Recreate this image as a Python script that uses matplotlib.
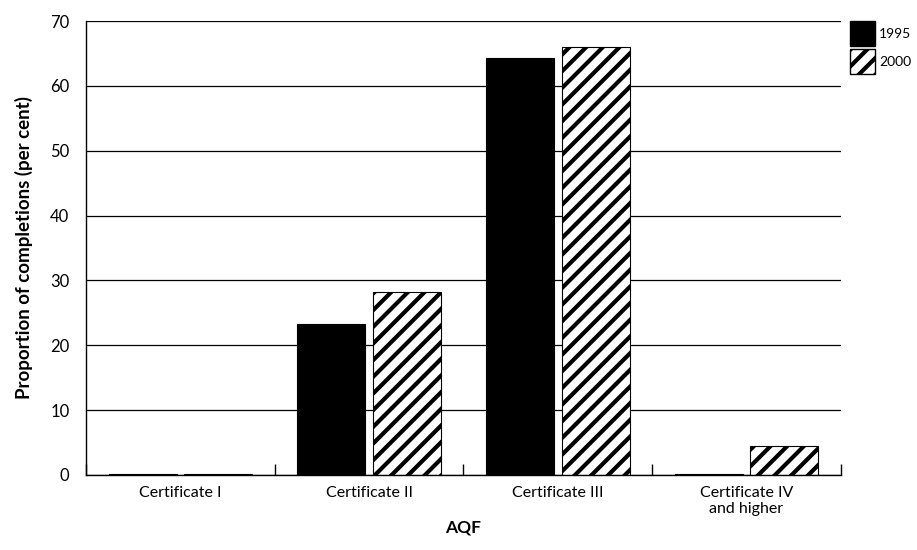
import numpy as np
import matplotlib.pyplot as plt
from matplotlib.patches import Patch

plt.rcParams['font.family'] = ['Lato', 'DejaVu Sans']
plt.rcParams['hatch.linewidth'] = 3.0

categories = ['Certificate I', 'Certificate II', 'Certificate III', 'Certificate IV\nand higher']
years = ['1995', '2000']
vals_1995 = [0.1, 23.3, 64.3, 0.1]
vals_2000 = [0.2, 28.2, 66.0, 4.5]

fig = plt.figure(figsize=(9.17, 5.5), dpi=100)
ax = fig.add_axes([0.0938, 0.1364, 0.8232, 0.8254])

x = np.arange(len(categories))
w = 0.36
gap = 0.04

# gridlines first so bars sit over them
ax.set_axisbelow(True)
ax.yaxis.grid(True, color='black', linewidth=0.9)

ax.bar(x - w / 2 - gap / 2, vals_1995, width=w, color='black', edgecolor='black', linewidth=0.8)
ax.bar(x + w / 2 + gap / 2, vals_2000, width=w, color='white', edgecolor='black', hatch='//', linewidth=0.8)

ax.set_xlim(-0.5, 3.5)
ax.set_ylim(0, 70)
ax.set_yticks(range(0, 71, 10))

# category boundary ticks on the x axis
ax.set_xticks(x)
ax.set_xticklabels(categories, fontsize=11.5)
ax.tick_params(axis='x', length=0, pad=8)
ax.set_xticks(np.arange(-0.5, 3.6, 1.0), minor=True)
ax.tick_params(axis='x', which='minor', direction='in', length=8, width=1)
ax.tick_params(axis='y', length=0, labelsize=12, pad=12)

for s in ['top', 'right']:
    ax.spines[s].set_visible(False)
ax.spines['left'].set_linewidth(1)
ax.spines['bottom'].set_linewidth(1)

ax.set_xlabel('AQF', fontsize=12.5, fontweight='bold', labelpad=2)
ax.set_ylabel('Proportion of completions (per cent)', fontsize=13.5, fontweight='bold', labelpad=12)

handles = [Patch(facecolor='black', edgecolor='black'),
           Patch(facecolor='white', edgecolor='black', hatch='//')]
fig.legend(handles, years, loc='upper left', bbox_to_anchor=(0.919, 0.974),
           frameon=False, fontsize=10, handlelength=1.8, handleheight=2.4,
           handletextpad=0.3, labelspacing=0.2, borderpad=0)

fig.savefig('out.png', dpi=100)
